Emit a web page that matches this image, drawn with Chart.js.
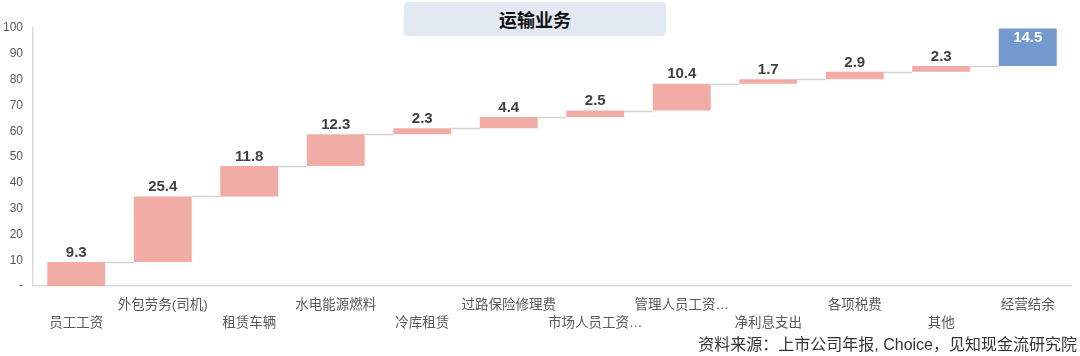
<!DOCTYPE html>
<html><head><meta charset="utf-8">
<script src="https://cdn.jsdelivr.net/npm/chart.js@4"></script>
<style>
html,body{margin:0;padding:0;background:#fff;}
#wrap{position:relative;width:1080px;height:356px;overflow:hidden;}
#title{position:absolute;left:404px;top:2px;width:262px;height:34px;background:#e2e9f3;border-radius:4px;
 font:bold 18px "Noto Sans CJK SC","Liberation Sans",sans-serif;color:#111;text-align:center;line-height:34px;}
#src{position:absolute;right:3px;top:336px;font:16px/18px "Liberation Sans","Noto Sans CJK SC",sans-serif;color:#333;white-space:nowrap;}
</style></head>
<body><div id="wrap"><canvas id="c" width="1080" height="356"></canvas>
<div id="title">运输业务</div>
<div id="src">资料来源：上市公司年报, Choice，见知现金流研究院</div></div>
<script>
const categories = ['员工工资','外包劳务(司机)','租赁车辆','水电能源燃料','冷库租赁','过路保险修理费','市场人员工资…','管理人员工资…','净利息支出','各项税费','其他','经营结余'];
const values = [9.3, 25.4, 11.8, 12.3, 2.3, 4.4, 2.5, 10.4, 1.7, 2.9, 2.3, 14.5];
const yTicks = [0,10,20,30,40,50,60,70,80,90,100];

const ranges = [];
const cumEnd = [];
let run = 0;
values.forEach((v,i)=>{ ranges.push([run, run+v]); run += v; cumEnd.push(run); });

const pink = '#f2aca6', blue = '#7399cd';
const colors = values.map((v,i)=> i===values.length-1 ? blue : pink);

const fontFam = '"Liberation Sans","Noto Sans CJK SC",sans-serif';

const connectors = {
  id:'connectors',
  afterDatasetsDraw(chart){
    const meta = chart.getDatasetMeta(0), ys = chart.scales.y, ctx = chart.ctx;
    ctx.save(); ctx.strokeStyle = '#d3d3d3'; ctx.lineWidth = 1.5;
    for(let i=0;i<meta.data.length-1;i++){
      const a = meta.data[i], b = meta.data[i+1];
      const y = Math.round(ys.getPixelForValue(cumEnd[i])) + 0.5;
      ctx.beginPath(); ctx.moveTo(a.x + a.width/2, y); ctx.lineTo(b.x - b.width/2, y); ctx.stroke();
    }
    ctx.restore();
  }
};
const labels = {
  id:'vlabels',
  afterDatasetsDraw(chart){
    const meta = chart.getDatasetMeta(0), ys = chart.scales.y, ctx = chart.ctx;
    ctx.save(); ctx.font = 'bold 15px ' + fontFam; ctx.textAlign = 'center';
    meta.data.forEach((bar,i)=>{
      const top = ys.getPixelForValue(ranges[i][1]);
      const t = values[i].toFixed(1);
      if(i===values.length-1){ ctx.fillStyle='#ffffff'; ctx.textBaseline='top'; ctx.fillText(t, bar.x, top+2); }
      else { ctx.fillStyle='#404040'; ctx.textBaseline='bottom'; ctx.fillText(t, bar.x, top-2); }
    });
    ctx.restore();
  }
};

new Chart(document.getElementById('c'), {
  type:'bar',
  data:{ labels: categories, datasets:[{ data: ranges, backgroundColor: colors, borderWidth:0,
    barPercentage:0.67, categoryPercentage:1.0 }]},
  options:{
    responsive:false, animation:false,
    layout:{ padding:{ top:28, right:9, bottom:0, left:0 } },
    plugins:{ legend:{display:false}, tooltip:{enabled:false} },
    scales:{
      x:{
        grid:{ display:false, drawTicks:false, tickLength:0 },
        border:{ display:true, color:'#d9d9d9', width:1.5 },
        ticks:{ autoSkip:false, maxRotation:0, minRotation:0, padding:10, color:'#595959',
          font:{ size:13.5, family:fontFam, lineHeight:1.33 },
          callback:(v,i)=> i%2===0 ? ['', categories[i]] : [categories[i], ''] },
        afterFit:(s)=>{ s.height = 70; }
      },
      y:{
        min:0, max:100,
        grid:{ display:false, drawTicks:false, tickLength:0 },
        border:{ display:true, color:'#d9d9d9', width:1.5 },
        afterBuildTicks:(s)=>{ s.ticks = yTicks.map(v=>({value:v})); },
        ticks:{ padding:10, color:'#595959', font:{ size:12, family:fontFam },
          callback:(v)=> v===0 ? '-' : String(v) },
        afterFit:(s)=>{ s.width = 33; }
      }
    }
  },
  plugins:[connectors, labels]
});
</script></body></html>
